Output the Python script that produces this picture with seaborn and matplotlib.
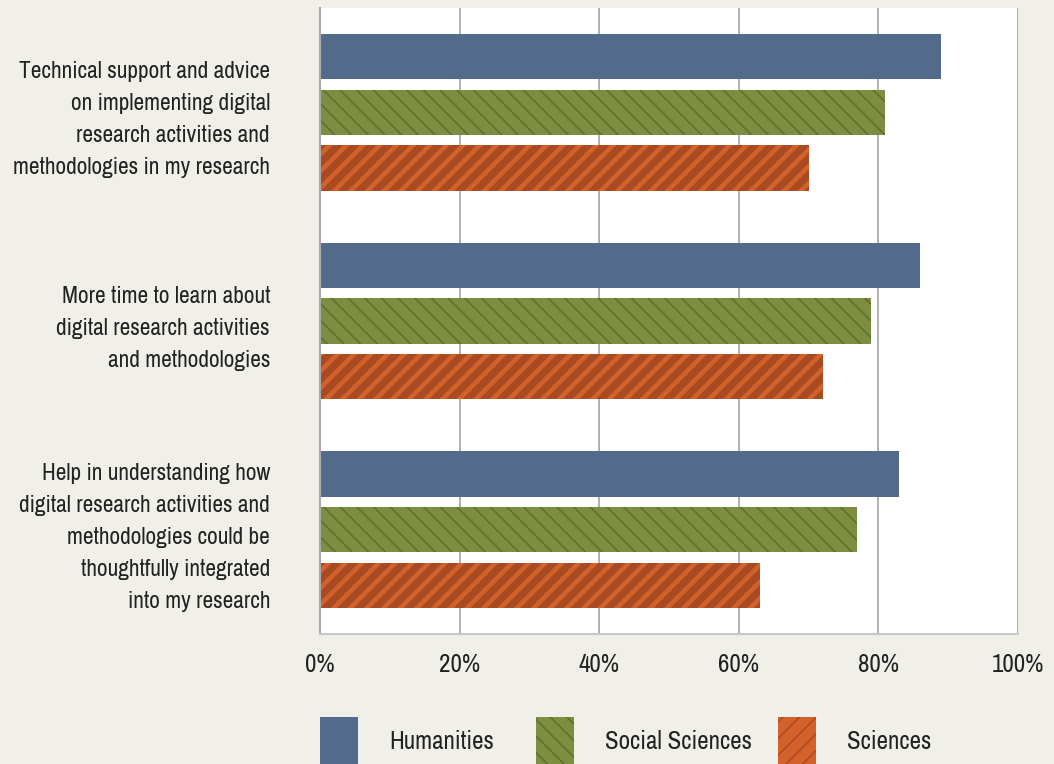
import numpy as np
import pandas as pd
import matplotlib
import matplotlib.pyplot as plt
import seaborn as sns
from matplotlib.patches import Patch

# data
needs = [
    "Technical support and advice\non implementing digital\nresearch activities and\nmethodologies in my research",
    "More time to learn about\ndigital research activities\nand methodologies",
    "Help in understanding how\ndigital research activities and\nmethodologies could be\nthoughtfully integrated\ninto my research",
]
disciplines = ["Humanities", "Social Sciences", "Sciences"]
humanities = [89, 86, 83]
social_sciences = [81, 79, 77]
sciences = [70, 72, 63]
x_ticks = [0, 20, 40, 60, 80, 100]

colors = {"Humanities": "#526b8a", "Social Sciences": "#7e8e41", "Sciences": "#d2622a"}
hatch_colors = {"Humanities": "#526b8a", "Social Sciences": "#5d6e2c", "Sciences": "#a84a22"}
hatches = {"Humanities": "", "Social Sciences": "\\\\", "Sciences": "//"}
hatch_widths = {"Humanities": 0, "Social Sciences": 1.1, "Sciences": 5.2}
legend_x = {"Humanities": 320, "Social Sciences": 536, "Sciences": 778}

bg = "#f0efe8"
FS = 16.8


def build_df():
    rows = []
    for i, need in enumerate(needs):
        rows.append((need, "Humanities", humanities[i]))
        rows.append((need, "Social Sciences", social_sciences[i]))
        rows.append((need, "Sciences", sciences[i]))
    return pd.DataFrame(rows, columns=["need", "discipline", "pct"])


def style_patch(p, name):
    p.set_facecolor(colors[name])
    p.set_edgecolor(hatch_colors[name])
    p.set_linewidth(0)
    if hatches[name]:
        p.set_hatch(hatches[name])
        if hasattr(p, "set_hatch_linewidth"):
            p.set_hatch_linewidth(hatch_widths[name])


def main():
    sns.set_style("white")
    plt.rcParams["font.family"] = ["Archivo Narrow", "PT Sans Narrow", "DejaVu Sans"]
    plt.rcParams["hatch.linewidth"] = 1.1

    df = build_df()
    fig = plt.figure(figsize=(10.54, 7.64), dpi=100, facecolor=bg)
    ax = fig.add_axes([320 / 1054, 1 - 634 / 764, 698 / 1054, 626 / 764])
    ax.set_facecolor("white")

    sns.barplot(df, x="pct", y="need", hue="discipline", hue_order=disciplines,
                orient="h", width=0.8, gap=0.19, palette=colors, ax=ax, legend=False)

    # one container per discipline, in hue order
    for cont, name in zip(ax.containers, disciplines):
        for p in cont:
            style_patch(p, name)

    ax.set_xlim(0, 100)
    ax.set_ylim(2.5, -0.5)
    ax.set_xticks(x_ticks)
    ax.set_xticklabels([f"{t}%" for t in x_ticks])
    ax.xaxis.grid(True, color="#aaaaaa", linewidth=1.3)
    ax.yaxis.grid(False)
    ax.set_axisbelow(True)
    ax.set_xlabel("")
    ax.set_ylabel("")
    ax.tick_params(axis="x", length=0, pad=14, labelsize=18, colors="#222222")
    ax.tick_params(axis="y", length=0, pad=36, labelsize=FS, colors="#222222")
    for lbl in ax.get_yticklabels():
        lbl.set_linespacing(1.65)

    ax.spines["top"].set_visible(False)
    ax.spines["right"].set_visible(False)
    ax.spines["left"].set_color("#aaaaaa")
    ax.spines["left"].set_linewidth(1.5)
    ax.spines["bottom"].set_color("#c8c8c8")
    ax.spines["bottom"].set_linewidth(1.5)

    # one legend per entry so each sits where the reference has it
    for name in disciplines:
        h = Patch(label=name)
        style_patch(h, name)
        fig.legend(handles=[h], loc="upper left",
                   bbox_to_anchor=(legend_x[name] / 1054, 1 - 717 / 764),
                   frameon=False, fontsize=18, borderpad=0, borderaxespad=0,
                   handlelength=38 / 25, handleheight=2.6, handletextpad=1.25,
                   labelcolor="#222222")

    fig.savefig("out.png", dpi=100, facecolor=bg)
    plt.close()


if __name__ == "__main__":
    main()
